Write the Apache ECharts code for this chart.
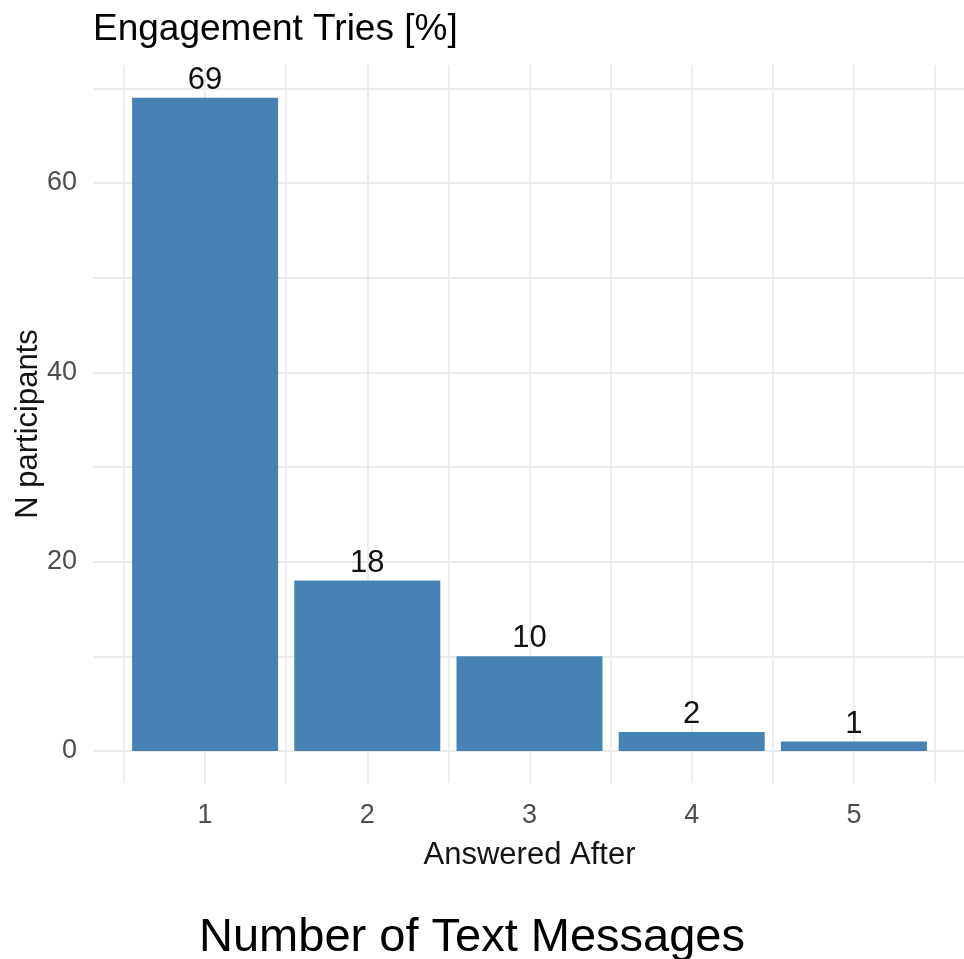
<!DOCTYPE html>
<html>
<head>
<meta charset="utf-8">
<script src="https://cdn.jsdelivr.net/npm/echarts@6/dist/echarts.min.js"></script>
<style>
  html, body { margin: 0; padding: 0; background: #ffffff; }
  #chart { width: 964px; height: 959px; }
</style>
</head>
<body>
<div id="chart"></div>
<script>
// Number of text messages before the participant answered
const categories = [1, 2, 3, 4, 5];
const categoryLabels = ['1', '2', '3', '4', '5'];
// Participants per category
const participants = [69, 18, 10, 2, 1];
// Y axis ticks (labelled every 20, grid every 10)
const yTickLabels = [0, 20, 40, 60];

const FONT = "'Liberation Sans', Arial, sans-serif";
const GRID_COLOR = '#ebebeb';

const Y_MAX = 72.46;
const Y_MIN_EXT = -3.38;

const chart = echarts.init(document.getElementById('chart'), null, { renderer: 'canvas' });

chart.setOption({
  animation: false,
  backgroundColor: '#ffffff',
  grid: [
    // horizontal grid lines + y tick labels
    { left: 93, right: 0, top: 65, bottom: 208 },
    // vertical grid lines, bars, axis titles
    { left: 124, right: 29, top: 65, bottom: 176 }
  ],
  xAxis: [
    {
      gridIndex: 0, type: 'value', min: 0, max: 1, show: false
    },
    {
      gridIndex: 1, type: 'value', min: 0.5, max: 5.5, interval: 0.5,
      axisLine: { show: false },
      axisTick: { show: false },
      axisLabel: {
        fontFamily: FONT, fontSize: 27, color: '#4d4d4d', margin: 19,
        formatter: v => {
          const i = categories.indexOf(v);
          return i >= 0 ? categoryLabels[i] : '';
        }
      },
      splitLine: { show: true, lineStyle: { color: GRID_COLOR, width: 1.8 } },
      name: 'Answered After',
      nameLocation: 'middle',
      nameGap: 57,
      nameTextStyle: { fontFamily: FONT, fontSize: 31, color: '#141414' }
    }
  ],
  yAxis: [
    {
      gridIndex: 0, type: 'value', min: 0, max: Y_MAX, interval: 10,
      axisLine: { show: false },
      axisTick: { show: false },
      axisLabel: {
        fontFamily: FONT, fontSize: 27, color: '#4d4d4d', margin: 16,
        padding: [7, 0, 0, 0],
        formatter: v => yTickLabels.includes(v) ? String(v) : ''
      },
      splitLine: { show: true, showMaxLine: false, lineStyle: { color: GRID_COLOR, width: 1.8 } }
    },
    {
      gridIndex: 1, type: 'value', min: Y_MIN_EXT, max: Y_MAX,
      axisLine: { show: false },
      axisTick: { show: false },
      axisLabel: { show: false },
      splitLine: { show: false },
      name: 'N participants',
      nameLocation: 'middle',
      nameGap: 80,
      nameTextStyle: { fontFamily: FONT, fontSize: 31, color: '#141414' }
    }
  ],
  series: [
    {
      type: 'bar',
      xAxisIndex: 1,
      yAxisIndex: 1,
      barWidth: 146,
      itemStyle: { color: '#4682b4' },
      label: {
        show: true,
        position: 'top',
        distance: 2,
        fontFamily: FONT,
        fontSize: 31,
        color: '#111111'
      },
      data: categories.map((c, i) => [c, participants[i]])
    }
  ],
  graphic: [
    {
      type: 'text', silent: true,
      position: [93, 30],
      style: {
        text: 'Engagement Tries [%]',
        font: "37px " + FONT,
        fill: '#000000',
        textVerticalAlign: 'middle'
      }
    },
    {
      type: 'text', silent: true,
      position: [472, 938],
      style: {
        text: 'Number of Text Messages',
        font: "47px " + FONT,
        fill: '#000000',
        textAlign: 'center',
        textVerticalAlign: 'middle'
      }
    }
  ]
});
</script>
</body>
</html>
